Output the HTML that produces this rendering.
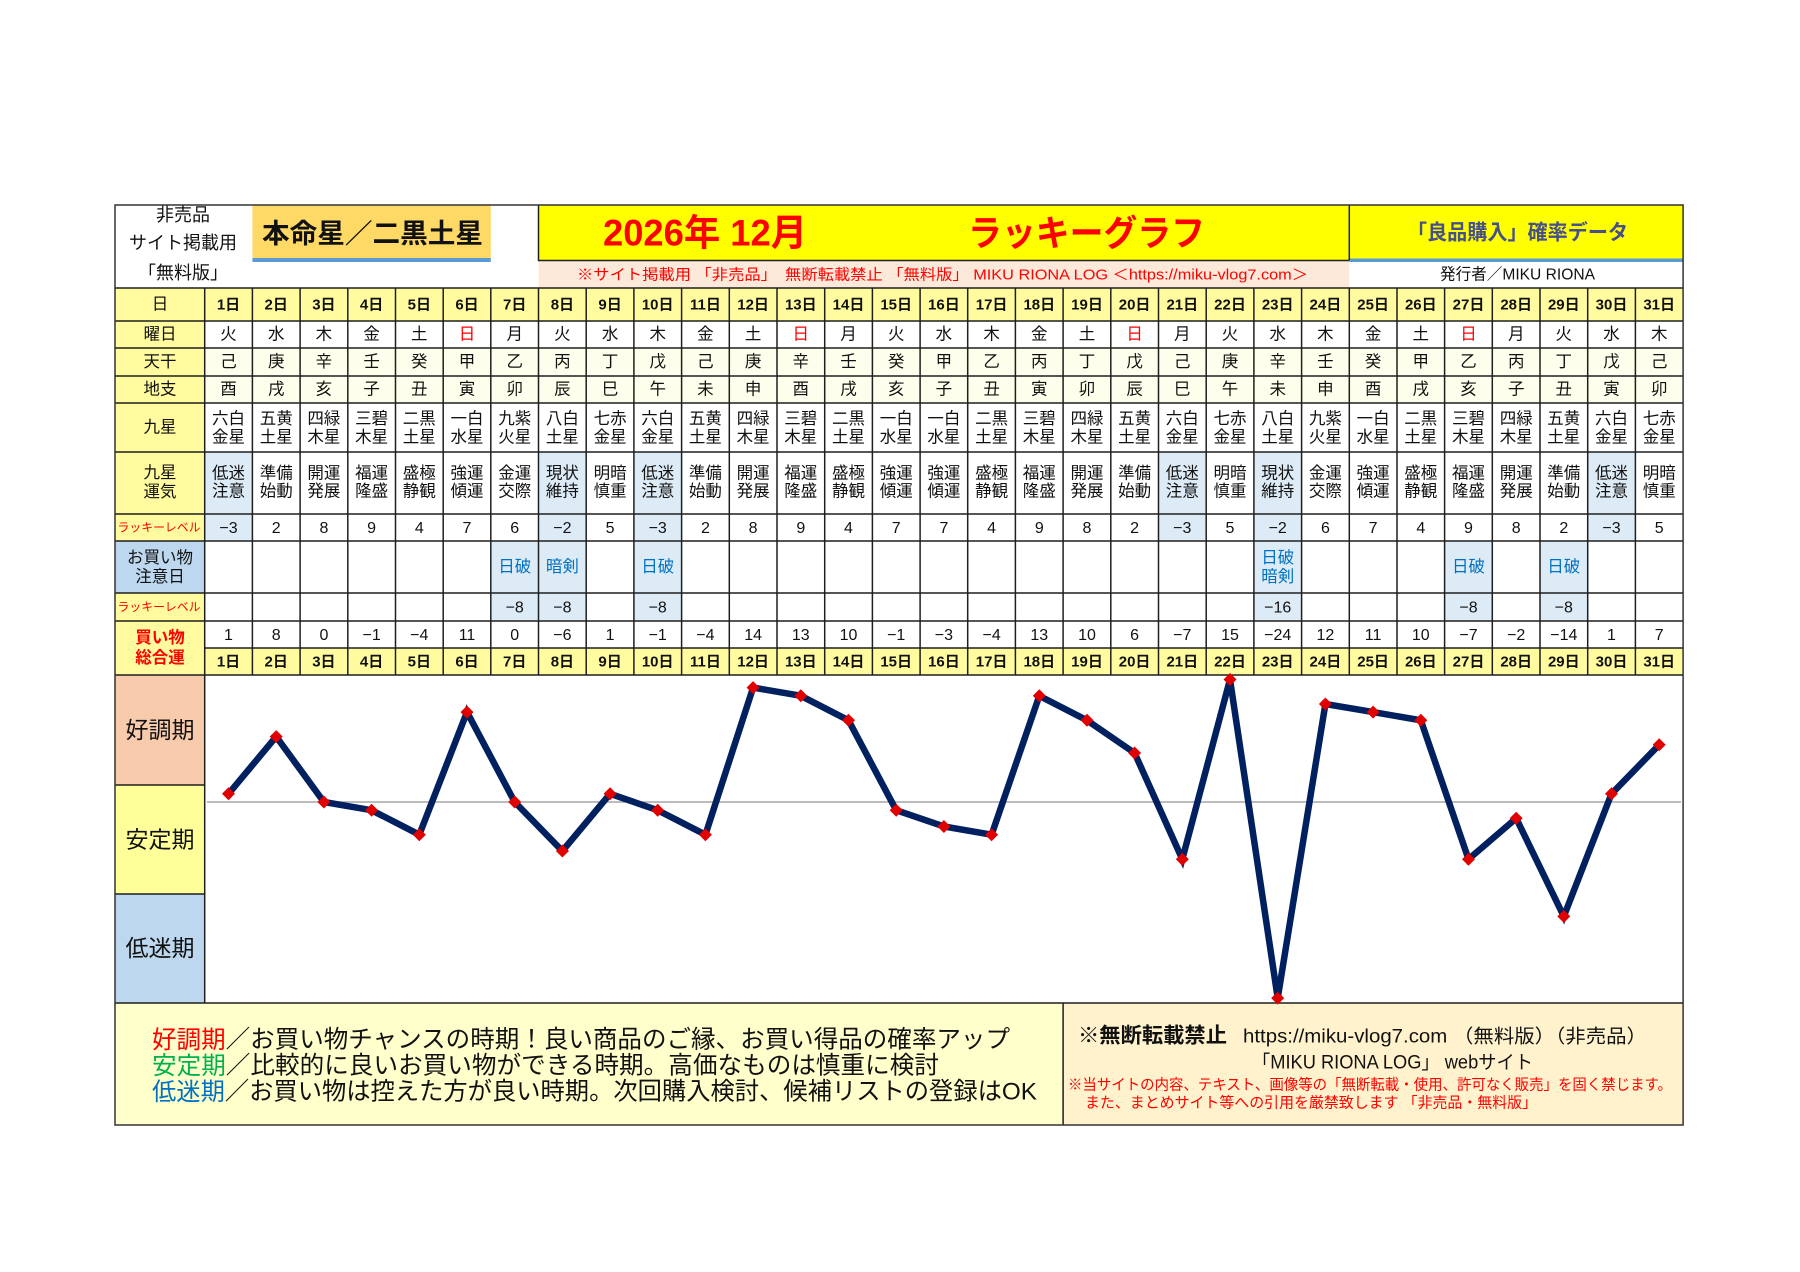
<!DOCTYPE html>
<html><head><meta charset="utf-8">
<style>
html,body{margin:0;padding:0;background:#fff;}
svg{display:block;}
text{font-family:"Liberation Sans","Noto Sans CJK JP",sans-serif;fill:#111;}
.c{text-anchor:middle;dominant-baseline:central;}
.s{dominant-baseline:central;}
.f17{font-size:16.5px;}
.f18{font-size:18px;}
.f16{font-size:16px;}
.b15{font-size:15px;font-weight:bold;}
.red{fill:#ff0000;}
.blu{fill:#0070c0;}
</style></head>
<body>
<svg width="1800" height="1272" viewBox="0 0 1800 1272" xmlns="http://www.w3.org/2000/svg">
<defs>
<marker id="dm" markerWidth="14" markerHeight="14" refX="7" refY="7" markerUnits="userSpaceOnUse"><path d="M7 0.5 L13.5 7 L7 13.5 L0.5 7Z" fill="#e00000"/></marker>
</defs>
<rect x="0" y="0" width="1800" height="1272" fill="#fff"/>

<!-- header backgrounds -->
<rect x="252.4" y="205" width="238.4" height="53" fill="#ffd966"/>
<rect x="252.4" y="258" width="238.4" height="4" fill="#5b9bd5"/>
<rect x="538.5" y="205" width="810.8" height="55" fill="#ffff00"/>
<rect x="1349.3" y="205" width="333.8" height="54" fill="#ffff00"/>
<rect x="1349.3" y="258.5" width="333.8" height="3.5" fill="#5b9bd5"/>
<rect x="538.5" y="261" width="810.8" height="27" fill="#fde9d9"/>

<!-- row backgrounds -->
<rect x="115" y="288" width="1568.1" height="33" fill="#fffb9e"/>
<rect x="115" y="288" width="89.7" height="387" fill="#fffb9e"/>
<rect x="115" y="541" width="89.7" height="52" fill="#bdd7ee"/>
<rect x="204.7" y="348" width="1478.4" height="55" fill="#fefeec"/>
<rect x="204.7" y="648" width="1478.4" height="27" fill="#fffb9e"/>

<!-- blue highlight cells -->
<g fill="#ddebf7">
<rect x="204.7" y="452" width="47.7" height="89"/>
<rect x="538.5" y="452" width="47.7" height="89"/>
<rect x="633.9" y="452" width="47.7" height="89"/>
<rect x="1158.5" y="452" width="47.7" height="89"/>
<rect x="1253.9" y="452" width="47.7" height="89"/>
<rect x="1587.7" y="452" width="47.7" height="89"/>
<rect x="490.8" y="541" width="47.7" height="80"/>
<rect x="538.5" y="541" width="47.7" height="80"/>
<rect x="633.9" y="541" width="47.7" height="80"/>
<rect x="1253.9" y="541" width="47.7" height="80"/>
<rect x="1444.6" y="541" width="47.7" height="80"/>
<rect x="1540.0" y="541" width="47.7" height="80"/>
</g>

<!-- chart label backgrounds -->
<rect x="115" y="675" width="89.7" height="110" fill="#f8cbad"/>
<rect x="115" y="785" width="89.7" height="109" fill="#ffff99"/>
<rect x="115" y="894" width="89.7" height="109" fill="#bdd7ee"/>

<!-- footer backgrounds -->
<rect x="115" y="1003" width="948.1" height="122" fill="#ffffcc"/>
<rect x="1063.1" y="1003" width="620" height="122" fill="#fff2cc"/>

<!-- grid lines -->
<g stroke="#1f1f1f" stroke-width="1.5" fill="none">
<path d="M115 288H1683.1M115 321H1683.1M115 348H1683.1M115 376H1683.1M115 403H1683.1M115 452H1683.1M115 514H1683.1M115 541H1683.1M115 593H1683.1M115 621H1683.1M204.7 648H1683.1M115 675H1683.1M115 1003H1683.1M115 785H204.7M115 894H204.7"/>
<path d="M204.7 288V1003M1063.1 1003V1125"/>
<path d="M252.4 288V675M300.1 288V675M347.8 288V675M395.5 288V675M443.2 288V675M490.8 288V675M538.5 288V675M586.2 288V675M633.9 288V675M681.6 288V675M729.3 288V675M777.0 288V675M824.7 288V675M872.4 288V675M920.1 288V675M967.7 288V675M1015.4 288V675M1063.1 288V675M1110.8 288V675M1158.5 288V675M1206.2 288V675M1253.9 288V675M1301.6 288V675M1349.3 288V675M1397.0 288V675M1444.6 288V675M1492.3 288V675M1540.0 288V675M1587.7 288V675M1635.4 288V675"/>
<path d="M538.5 205V260.5H1349.3M1349.3 205V260"/>
</g>
<rect x="115" y="205" width="1568.1" height="920" fill="none" stroke="#333" stroke-width="1.5"/>

<!-- header texts -->
<text class="c f18" x="183" y="215">非売品</text>
<text class="c f18" x="183" y="243">サイト掲載用</text>
<text class="c f18" x="183" y="273">「無料版」</text>
<text class="s" x="262" y="234" font-size="27" font-weight="bold" textLength="221" lengthAdjust="spacingAndGlyphs">本命星／二黒土星</text>
<text class="s red" x="603" y="233" font-size="37" font-weight="bold" textLength="204" lengthAdjust="spacingAndGlyphs">2026年 12月</text>
<text class="s red" x="968" y="233" font-size="36" font-weight="bold" textLength="237" lengthAdjust="spacingAndGlyphs">ラッキーグラフ</text>
<text class="s" x="1407" y="233" font-size="21" font-weight="bold" style="fill:#46508a" textLength="221" lengthAdjust="spacingAndGlyphs">「良品購入」確率データ</text>
<text class="s red" x="577" y="275" font-size="15" textLength="731" lengthAdjust="spacingAndGlyphs">※サイト掲載用 「非売品」　無断転載禁止 「無料版」 MIKU RIONA LOG ＜https://miku-vlog7.com＞</text>
<text class="s" x="1440" y="275" font-size="16" textLength="155" lengthAdjust="spacingAndGlyphs">発行者／MIKU RIONA</text>

<!-- label column -->
<text class="c f17" x="160" y="304.5">日</text>
<text class="c f17" x="160" y="334.5">曜日</text>
<text class="c f17" x="160" y="362">天干</text>
<text class="c f17" x="160" y="389.5">地支</text>
<text class="c f17" x="160" y="427.5">九星</text>
<text class="c f17" x="160" y="473">九星</text>
<text class="c f17" x="160" y="492">運気</text>
<text class="s red" x="117.5" y="527.5" font-size="12" textLength="83" lengthAdjust="spacingAndGlyphs">ラッキーレベル</text>
<text class="c f17" x="160" y="558">お買い物</text>
<text class="c f17" x="160" y="577">注意日</text>
<text class="s red" x="117.5" y="607" font-size="12" textLength="83" lengthAdjust="spacingAndGlyphs">ラッキーレベル</text>
<text class="c f17 red" x="160" y="638" font-weight="bold">買い物</text>
<text class="c f17 red" x="160" y="658" font-weight="bold">総合運</text>
<text class="c" x="160" y="730" font-size="23">好調期</text>
<text class="c" x="160" y="839.5" font-size="23">安定期</text>
<text class="c" x="160" y="948" font-size="23">低迷期</text>

<!-- 日 row -->
<text class="c b15" y="304.5"><tspan x="228.5">1日</tspan><tspan x="276.2">2日</tspan><tspan x="323.9">3日</tspan><tspan x="371.6">4日</tspan><tspan x="419.3">5日</tspan><tspan x="467.0">6日</tspan><tspan x="514.7">7日</tspan><tspan x="562.4">8日</tspan><tspan x="610.1">9日</tspan><tspan x="657.7">10日</tspan><tspan x="705.4">11日</tspan><tspan x="753.1">12日</tspan><tspan x="800.8">13日</tspan><tspan x="848.5">14日</tspan><tspan x="896.2">15日</tspan><tspan x="943.9">16日</tspan><tspan x="991.6">17日</tspan><tspan x="1039.3">18日</tspan><tspan x="1087.0">19日</tspan><tspan x="1134.6">20日</tspan><tspan x="1182.3">21日</tspan><tspan x="1230.0">22日</tspan><tspan x="1277.7">23日</tspan><tspan x="1325.4">24日</tspan><tspan x="1373.1">25日</tspan><tspan x="1420.8">26日</tspan><tspan x="1468.5">27日</tspan><tspan x="1516.2">28日</tspan><tspan x="1563.8">29日</tspan><tspan x="1611.5">30日</tspan><tspan x="1659.2">31日</tspan></text>

<!-- 曜日 -->
<text class="c f17" y="334.5"><tspan x="228.5">火</tspan><tspan x="276.2">水</tspan><tspan x="323.9">木</tspan><tspan x="371.6">金</tspan><tspan x="419.3">土</tspan><tspan x="467.0" class="red">日</tspan><tspan x="514.7">月</tspan><tspan x="562.4">火</tspan><tspan x="610.1">水</tspan><tspan x="657.7">木</tspan><tspan x="705.4">金</tspan><tspan x="753.1">土</tspan><tspan x="800.8" class="red">日</tspan><tspan x="848.5">月</tspan><tspan x="896.2">火</tspan><tspan x="943.9">水</tspan><tspan x="991.6">木</tspan><tspan x="1039.3">金</tspan><tspan x="1087.0">土</tspan><tspan x="1134.6" class="red">日</tspan><tspan x="1182.3">月</tspan><tspan x="1230.0">火</tspan><tspan x="1277.7">水</tspan><tspan x="1325.4">木</tspan><tspan x="1373.1">金</tspan><tspan x="1420.8">土</tspan><tspan x="1468.5" class="red">日</tspan><tspan x="1516.2">月</tspan><tspan x="1563.8">火</tspan><tspan x="1611.5">水</tspan><tspan x="1659.2">木</tspan></text>

<!-- 天干 -->
<text class="c f17" y="362"><tspan x="228.5">己</tspan><tspan x="276.2">庚</tspan><tspan x="323.9">辛</tspan><tspan x="371.6">壬</tspan><tspan x="419.3">癸</tspan><tspan x="467.0">甲</tspan><tspan x="514.7">乙</tspan><tspan x="562.4">丙</tspan><tspan x="610.1">丁</tspan><tspan x="657.7">戊</tspan><tspan x="705.4">己</tspan><tspan x="753.1">庚</tspan><tspan x="800.8">辛</tspan><tspan x="848.5">壬</tspan><tspan x="896.2">癸</tspan><tspan x="943.9">甲</tspan><tspan x="991.6">乙</tspan><tspan x="1039.3">丙</tspan><tspan x="1087.0">丁</tspan><tspan x="1134.6">戊</tspan><tspan x="1182.3">己</tspan><tspan x="1230.0">庚</tspan><tspan x="1277.7">辛</tspan><tspan x="1325.4">壬</tspan><tspan x="1373.1">癸</tspan><tspan x="1420.8">甲</tspan><tspan x="1468.5">乙</tspan><tspan x="1516.2">丙</tspan><tspan x="1563.8">丁</tspan><tspan x="1611.5">戊</tspan><tspan x="1659.2">己</tspan></text>

<!-- 地支 -->
<text class="c f17" y="389.5"><tspan x="228.5">酉</tspan><tspan x="276.2">戌</tspan><tspan x="323.9">亥</tspan><tspan x="371.6">子</tspan><tspan x="419.3">丑</tspan><tspan x="467.0">寅</tspan><tspan x="514.7">卯</tspan><tspan x="562.4">辰</tspan><tspan x="610.1">巳</tspan><tspan x="657.7">午</tspan><tspan x="705.4">未</tspan><tspan x="753.1">申</tspan><tspan x="800.8">酉</tspan><tspan x="848.5">戌</tspan><tspan x="896.2">亥</tspan><tspan x="943.9">子</tspan><tspan x="991.6">丑</tspan><tspan x="1039.3">寅</tspan><tspan x="1087.0">卯</tspan><tspan x="1134.6">辰</tspan><tspan x="1182.3">巳</tspan><tspan x="1230.0">午</tspan><tspan x="1277.7">未</tspan><tspan x="1325.4">申</tspan><tspan x="1373.1">酉</tspan><tspan x="1420.8">戌</tspan><tspan x="1468.5">亥</tspan><tspan x="1516.2">子</tspan><tspan x="1563.8">丑</tspan><tspan x="1611.5">寅</tspan><tspan x="1659.2">卯</tspan></text>

<!-- 九星 line 1 -->
<text class="c f17" y="419"><tspan x="228.5">六白</tspan><tspan x="276.2">五黄</tspan><tspan x="323.9">四緑</tspan><tspan x="371.6">三碧</tspan><tspan x="419.3">二黒</tspan><tspan x="467.0">一白</tspan><tspan x="514.7">九紫</tspan><tspan x="562.4">八白</tspan><tspan x="610.1">七赤</tspan><tspan x="657.7">六白</tspan><tspan x="705.4">五黄</tspan><tspan x="753.1">四緑</tspan><tspan x="800.8">三碧</tspan><tspan x="848.5">二黒</tspan><tspan x="896.2">一白</tspan><tspan x="943.9">一白</tspan><tspan x="991.6">二黒</tspan><tspan x="1039.3">三碧</tspan><tspan x="1087.0">四緑</tspan><tspan x="1134.6">五黄</tspan><tspan x="1182.3">六白</tspan><tspan x="1230.0">七赤</tspan><tspan x="1277.7">八白</tspan><tspan x="1325.4">九紫</tspan><tspan x="1373.1">一白</tspan><tspan x="1420.8">二黒</tspan><tspan x="1468.5">三碧</tspan><tspan x="1516.2">四緑</tspan><tspan x="1563.8">五黄</tspan><tspan x="1611.5">六白</tspan><tspan x="1659.2">七赤</tspan></text>
<!-- 九星 line 2 -->
<text class="c f17" y="437.5"><tspan x="228.5">金星</tspan><tspan x="276.2">土星</tspan><tspan x="323.9">木星</tspan><tspan x="371.6">木星</tspan><tspan x="419.3">土星</tspan><tspan x="467.0">水星</tspan><tspan x="514.7">火星</tspan><tspan x="562.4">土星</tspan><tspan x="610.1">金星</tspan><tspan x="657.7">金星</tspan><tspan x="705.4">土星</tspan><tspan x="753.1">木星</tspan><tspan x="800.8">木星</tspan><tspan x="848.5">土星</tspan><tspan x="896.2">水星</tspan><tspan x="943.9">水星</tspan><tspan x="991.6">土星</tspan><tspan x="1039.3">木星</tspan><tspan x="1087.0">木星</tspan><tspan x="1134.6">土星</tspan><tspan x="1182.3">金星</tspan><tspan x="1230.0">金星</tspan><tspan x="1277.7">土星</tspan><tspan x="1325.4">火星</tspan><tspan x="1373.1">水星</tspan><tspan x="1420.8">土星</tspan><tspan x="1468.5">木星</tspan><tspan x="1516.2">木星</tspan><tspan x="1563.8">土星</tspan><tspan x="1611.5">金星</tspan><tspan x="1659.2">金星</tspan></text>

<!-- 九星運気 line 1 -->
<text class="c f17" y="473.3"><tspan x="228.5">低迷</tspan><tspan x="276.2">準備</tspan><tspan x="323.9">開運</tspan><tspan x="371.6">福運</tspan><tspan x="419.3">盛極</tspan><tspan x="467.0">強運</tspan><tspan x="514.7">金運</tspan><tspan x="562.4">現状</tspan><tspan x="610.1">明暗</tspan><tspan x="657.7">低迷</tspan><tspan x="705.4">準備</tspan><tspan x="753.1">開運</tspan><tspan x="800.8">福運</tspan><tspan x="848.5">盛極</tspan><tspan x="896.2">強運</tspan><tspan x="943.9">強運</tspan><tspan x="991.6">盛極</tspan><tspan x="1039.3">福運</tspan><tspan x="1087.0">開運</tspan><tspan x="1134.6">準備</tspan><tspan x="1182.3">低迷</tspan><tspan x="1230.0">明暗</tspan><tspan x="1277.7">現状</tspan><tspan x="1325.4">金運</tspan><tspan x="1373.1">強運</tspan><tspan x="1420.8">盛極</tspan><tspan x="1468.5">福運</tspan><tspan x="1516.2">開運</tspan><tspan x="1563.8">準備</tspan><tspan x="1611.5">低迷</tspan><tspan x="1659.2">明暗</tspan></text>
<!-- 九星運気 line 2 -->
<text class="c f17" y="491.7"><tspan x="228.5">注意</tspan><tspan x="276.2">始動</tspan><tspan x="323.9">発展</tspan><tspan x="371.6">隆盛</tspan><tspan x="419.3">静観</tspan><tspan x="467.0">傾運</tspan><tspan x="514.7">交際</tspan><tspan x="562.4">維持</tspan><tspan x="610.1">慎重</tspan><tspan x="657.7">注意</tspan><tspan x="705.4">始動</tspan><tspan x="753.1">発展</tspan><tspan x="800.8">隆盛</tspan><tspan x="848.5">静観</tspan><tspan x="896.2">傾運</tspan><tspan x="943.9">傾運</tspan><tspan x="991.6">静観</tspan><tspan x="1039.3">隆盛</tspan><tspan x="1087.0">発展</tspan><tspan x="1134.6">始動</tspan><tspan x="1182.3">注意</tspan><tspan x="1230.0">慎重</tspan><tspan x="1277.7">維持</tspan><tspan x="1325.4">交際</tspan><tspan x="1373.1">傾運</tspan><tspan x="1420.8">静観</tspan><tspan x="1468.5">隆盛</tspan><tspan x="1516.2">発展</tspan><tspan x="1563.8">始動</tspan><tspan x="1611.5">注意</tspan><tspan x="1659.2">慎重</tspan></text>

<!-- ラッキーレベル -->
<text class="c f16" y="528"><tspan x="228.5">−3</tspan><tspan x="276.2">2</tspan><tspan x="323.9">8</tspan><tspan x="371.6">9</tspan><tspan x="419.3">4</tspan><tspan x="467.0">7</tspan><tspan x="514.7">6</tspan><tspan x="562.4">−2</tspan><tspan x="610.1">5</tspan><tspan x="657.7">−3</tspan><tspan x="705.4">2</tspan><tspan x="753.1">8</tspan><tspan x="800.8">9</tspan><tspan x="848.5">4</tspan><tspan x="896.2">7</tspan><tspan x="943.9">7</tspan><tspan x="991.6">4</tspan><tspan x="1039.3">9</tspan><tspan x="1087.0">8</tspan><tspan x="1134.6">2</tspan><tspan x="1182.3">−3</tspan><tspan x="1230.0">5</tspan><tspan x="1277.7">−2</tspan><tspan x="1325.4">6</tspan><tspan x="1373.1">7</tspan><tspan x="1420.8">4</tspan><tspan x="1468.5">9</tspan><tspan x="1516.2">8</tspan><tspan x="1563.8">2</tspan><tspan x="1611.5">−3</tspan><tspan x="1659.2">5</tspan></text>

<!-- お買い物注意日 -->
<text class="c f17 blu" y="567"><tspan x="514.7">日破</tspan><tspan x="562.4">暗剣</tspan><tspan x="657.7">日破</tspan><tspan x="1468.5">日破</tspan><tspan x="1563.8">日破</tspan></text>
<text class="c f17 blu" x="1277.7" y="558">日破</text>
<text class="c f17 blu" x="1277.7" y="577">暗剣</text>

<!-- ラッキーレベル 2 -->
<text class="c f16" y="607.5"><tspan x="514.7">−8</tspan><tspan x="562.4">−8</tspan><tspan x="657.7">−8</tspan><tspan x="1277.7">−16</tspan><tspan x="1468.5">−8</tspan><tspan x="1563.8">−8</tspan></text>

<!-- 買い物総合運 -->
<text class="c f16" y="635"><tspan x="228.5">1</tspan><tspan x="276.2">8</tspan><tspan x="323.9">0</tspan><tspan x="371.6">−1</tspan><tspan x="419.3">−4</tspan><tspan x="467.0">11</tspan><tspan x="514.7">0</tspan><tspan x="562.4">−6</tspan><tspan x="610.1">1</tspan><tspan x="657.7">−1</tspan><tspan x="705.4">−4</tspan><tspan x="753.1">14</tspan><tspan x="800.8">13</tspan><tspan x="848.5">10</tspan><tspan x="896.2">−1</tspan><tspan x="943.9">−3</tspan><tspan x="991.6">−4</tspan><tspan x="1039.3">13</tspan><tspan x="1087.0">10</tspan><tspan x="1134.6">6</tspan><tspan x="1182.3">−7</tspan><tspan x="1230.0">15</tspan><tspan x="1277.7">−24</tspan><tspan x="1325.4">12</tspan><tspan x="1373.1">11</tspan><tspan x="1420.8">10</tspan><tspan x="1468.5">−7</tspan><tspan x="1516.2">−2</tspan><tspan x="1563.8">−14</tspan><tspan x="1611.5">1</tspan><tspan x="1659.2">7</tspan></text>

<!-- bottom day row -->
<text class="c b15" y="661.5"><tspan x="228.5">1日</tspan><tspan x="276.2">2日</tspan><tspan x="323.9">3日</tspan><tspan x="371.6">4日</tspan><tspan x="419.3">5日</tspan><tspan x="467.0">6日</tspan><tspan x="514.7">7日</tspan><tspan x="562.4">8日</tspan><tspan x="610.1">9日</tspan><tspan x="657.7">10日</tspan><tspan x="705.4">11日</tspan><tspan x="753.1">12日</tspan><tspan x="800.8">13日</tspan><tspan x="848.5">14日</tspan><tspan x="896.2">15日</tspan><tspan x="943.9">16日</tspan><tspan x="991.6">17日</tspan><tspan x="1039.3">18日</tspan><tspan x="1087.0">19日</tspan><tspan x="1134.6">20日</tspan><tspan x="1182.3">21日</tspan><tspan x="1230.0">22日</tspan><tspan x="1277.7">23日</tspan><tspan x="1325.4">24日</tspan><tspan x="1373.1">25日</tspan><tspan x="1420.8">26日</tspan><tspan x="1468.5">27日</tspan><tspan x="1516.2">28日</tspan><tspan x="1563.8">29日</tspan><tspan x="1611.5">30日</tspan><tspan x="1659.2">31日</tspan></text>

<!-- chart -->
<line x1="207" y1="802" x2="1681" y2="802" stroke="#a6a6a6" stroke-width="1.5"/>
<polyline fill="none" stroke="#002060" stroke-width="6.5" stroke-linejoin="miter" marker-start="url(#dm)" marker-mid="url(#dm)" marker-end="url(#dm)" points="228.5,793.8 276.2,736.6 323.9,802 371.6,810.2 419.3,834.7 467.0,712.1 514.7,802 562.4,851.0 610.1,793.8 657.7,810.2 705.4,834.7 753.1,687.6 800.8,695.8 848.5,720.3 896.2,810.2 943.9,826.5 991.6,834.7 1039.3,695.8 1087.0,720.3 1134.6,753.0 1182.3,859.2 1230.0,679.5 1277.7,998.1 1325.4,704.0 1373.1,712.1 1420.8,720.3 1468.5,859.2 1516.2,818.3 1563.8,916.4 1611.5,793.8 1659.2,744.8"/>

<!-- footer left -->
<text class="s" x="152" y="1040" font-size="24.5" textLength="858" lengthAdjust="spacingAndGlyphs"><tspan class="red">好調期</tspan>／お買い物チャンスの時期！良い商品のご縁、お買い得品の確率アップ</text>
<text class="s" x="152" y="1066" font-size="24.5" textLength="787" lengthAdjust="spacingAndGlyphs"><tspan style="fill:#00b050">安定期</tspan>／比較的に良いお買い物ができる時期。高価なものは慎重に検討</text>
<text class="s" x="152" y="1092" font-size="24.5" textLength="885" lengthAdjust="spacingAndGlyphs"><tspan class="blu">低迷期</tspan>／お買い物は控えた方が良い時期。次回購入検討、候補リストの登録はOK</text>

<!-- footer right -->
<text class="s" x="1078" y="1036" font-size="21" font-weight="bold" textLength="149" lengthAdjust="spacingAndGlyphs">※無断転載禁止</text>
<text class="s" x="1243" y="1037" font-size="19" textLength="404" lengthAdjust="spacingAndGlyphs">https://miku-vlog7.com （無料版）（非売品）</text>
<text class="s" x="1252" y="1063" font-size="19" textLength="281" lengthAdjust="spacingAndGlyphs">「MIKU RIONA LOG」 webサイト</text>
<text class="s red" x="1068" y="1085" font-size="15" textLength="604" lengthAdjust="spacingAndGlyphs">※当サイトの内容、テキスト、画像等の「無断転載・使用、許可なく販売」を固く禁じます。</text>
<text class="s red" x="1085" y="1103" font-size="15" textLength="452" lengthAdjust="spacingAndGlyphs">また、まとめサイト等への引用を厳禁致します 「非売品・無料版」</text>
</svg>
</body></html>
